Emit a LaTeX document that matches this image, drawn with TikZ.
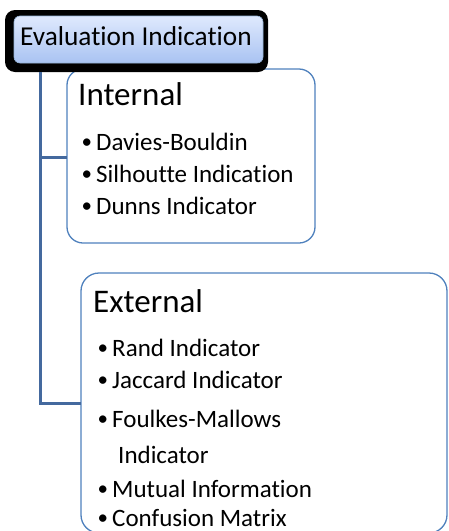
\documentclass[tikz,border=0pt]{standalone}
\usepackage{fontspec}
\setmainfont{Carlito}[Ligatures={NoCommon}]
\definecolor{trunkc}{HTML}{44699E}
\definecolor{boxc}{HTML}{4F81BD}
\definecolor{topc}{HTML}{DFE9FD}
\definecolor{botc}{HTML}{A9C3F2}
\tikzset{
  trunk/.style={draw=trunkc,line width=3pt},
  panel/.style={draw=boxc,line width=1.3pt,fill=white,rounded corners=16pt,inner sep=0pt,outer sep=0pt},
  shadowbox/.style={fill=black,rounded corners=10pt,inner sep=0pt,outer sep=0pt},
  titlebox/.style={top color=topc,bottom color=botc,draw=boxc!60,line width=0.6pt,rounded corners=6pt,inner sep=0pt,outer sep=0pt},
  head/.style={anchor=base west,inner sep=0pt,font=\fontsize{33}{36}\selectfont},
  title/.style={anchor=base west,inner sep=0pt,font=\fontsize{27.3}{30}\selectfont},
  item/.style={anchor=base west,inner sep=0pt,font=\fontsize{25}{28}\selectfont},
}
\newcommand{\bul}[1]{\makebox[15pt][l]{\hspace{0.5pt}\raisebox{1.5pt}{\fontsize{21}{22}\selectfont •}}#1}
\begin{document}
\begin{tikzpicture}[x=1pt,y=-1pt]
\useasboundingbox (0,0) rectangle (448,531);
\begin{scope}
\clip (0,0) rectangle (448,531);
\coordinate (j1) at (40,157);
\coordinate (j2) at (40,403);
\node[panel,minimum width=248pt,minimum height=174pt] (internal) at (191,156) {};
\node[panel,minimum width=366pt,minimum height=260pt,rounded corners=18pt] (external) at (264,403) {};
\node[shadowbox,minimum width=263pt,minimum height=62pt] (evalshadow) at (136.5,41) {};
\draw[trunk] (evalshadow.south -| j2) -- (j2) -- (j2 -| external.west);
\draw[trunk] (j1) -- (j1 -| internal.west);
\node[titlebox,minimum width=249pt,minimum height=47pt] (eval) at (138.5,39.5) {};
\node[title] (evaltext) at (20,45) {Evaluation Indication};
\node[head] (inthead) at (78,105) {Internal};
\node[item] (i1) at (81,150) {\bul{Davies-Bouldin}};
\node[item] (i2) at (81,182) {\bul{Silhoutte Indication}};
\node[item] (i3) at (81,214) {\bul{Dunns Indicator}};
\node[head] (exthead) at (93,312) {External};
\node[item] (e1) at (97,356) {\bul{Rand Indicator}};
\node[item] (e2) at (97,388) {\bul{Jaccard Indicator}};
\node[item] (e3) at (97,427) {\bul{Foulkes-Mallows}};
\node[item] (e4) at (118,463) {Indicator};
\node[item] (e5) at (97,497) {\bul{Mutual Information}};
\node[item] (e6) at (97,526) {\bul{Confusion Matrix}};
\end{scope}
\end{tikzpicture}
\end{document}
